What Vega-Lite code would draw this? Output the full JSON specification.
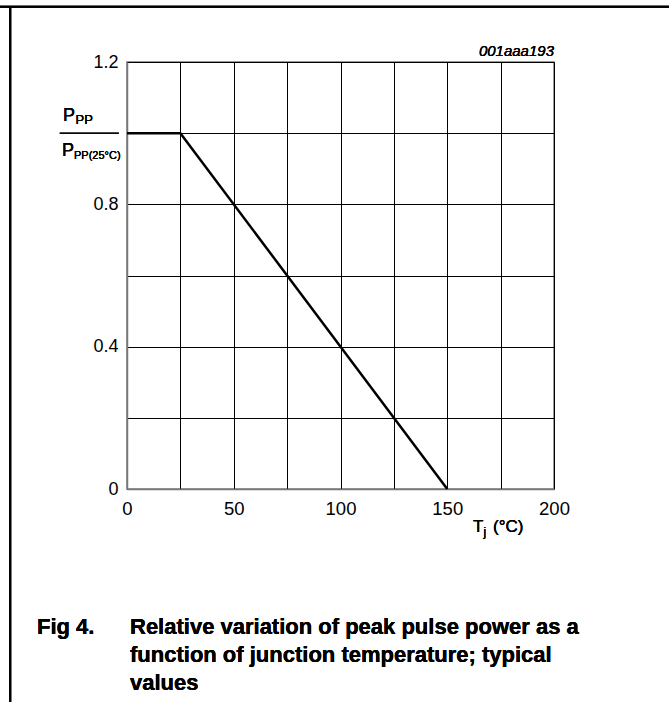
{
  "$schema": "https://vega.github.io/schema/vega-lite/v6.json",
  "width": 427,
  "height": 427,
  "autosize": "none",
  "padding": {"left": 127, "top": 62, "right": 115, "bottom": 213},
  "background": "white",
  "config": {
    "font": "Liberation Sans",
    "view": {"stroke": "#777777", "strokeWidth": 1.5},
    "axis": {
      "labelFont": "Liberation Sans",
      "labelColor": "#000000",
      "grid": true,
      "gridColor": "#000000",
      "gridWidth": 1,
      "gridOpacity": 1,
      "ticks": false,
      "domainColor": "#777777",
      "domainWidth": 1.5,
      "title": null
    }
  },
  "data": {
    "values": [
      {"tj": 0, "ratio": 1.0},
      {"tj": 25, "ratio": 1.0},
      {"tj": 150, "ratio": 0.0}
    ]
  },
  "layer": [
    {
      "mark": {"type": "line", "color": "#000000", "strokeWidth": 2.5},
      "encoding": {
        "x": {
          "field": "tj",
          "type": "quantitative",
          "scale": {"domain": [0, 200], "nice": false, "zero": false},
          "axis": {
            "values": [0, 25, 50, 75, 100, 125, 150, 175, 200],
            "labelExpr": "datum.value % 50 === 0 ? datum.label : ''",
            "labelFontSize": 18.5,
            "labelPadding": 10,
            "labelFlush": false
          }
        },
        "y": {
          "field": "ratio",
          "type": "quantitative",
          "scale": {"domain": [0, 1.2], "nice": false, "zero": false},
          "axis": {
            "values": [0, 0.2, 0.4, 0.6, 0.8, 1.0, 1.2],
            "labelExpr": "datum.value === 0 ? '0' : (datum.value === 0.4 || datum.value === 0.8 || datum.value === 1.2) ? format(datum.value, '.1f') : ''",
            "labelFontSize": 18,
            "labelPadding": 9,
            "labelFlush": false
          }
        }
      }
    },
    {
      "mark": {"type": "rule", "color": "#000000", "strokeWidth": 2},
      "encoding": {
        "x": {"datum": -54.7, "type": "quantitative"},
        "y": {"datum": 1.3555, "type": "quantitative"},
        "y2": {"datum": -0.6}
      }
    },
    {
      "mark": {"type": "rule", "color": "#000000", "strokeWidth": 2},
      "encoding": {
        "x": {"datum": -59.5, "type": "quantitative"},
        "x2": {"datum": 254.5},
        "y": {"datum": 1.3555, "type": "quantitative"}
      }
    },
    {
      "mark": {"type": "rule", "color": "#000000", "strokeWidth": 1},
      "encoding": {
        "x": {"datum": -31.5, "type": "quantitative"},
        "x2": {"datum": -3.8},
        "y": {"datum": 1.0, "type": "quantitative"}
      }
    },
    {
      "mark": {"type": "text", "text": "001aaa193", "fontStyle": "italic", "fontWeight": "normal", "fontSize": 15, "align": "right", "baseline": "alphabetic", "dy": -6, "color": "#000000"},
      "encoding": {
        "x": {"datum": 200, "type": "quantitative"},
        "y": {"datum": 1.2, "type": "quantitative"}
      }
    },
    {
      "mark": {"type": "text", "text": "P", "fontSize": 18, "fontWeight": "normal", "align": "left", "baseline": "alphabetic", "dx": -64, "dy": -12, "color": "#000000"},
      "encoding": {
        "x": {"datum": 0, "type": "quantitative"},
        "y": {"datum": 1.0, "type": "quantitative"}
      }
    },
    {
      "mark": {"type": "text", "text": "PP", "fontSize": 13, "fontWeight": "normal", "align": "left", "baseline": "alphabetic", "dx": -51.5, "dy": -9, "color": "#000000"},
      "encoding": {
        "x": {"datum": 0, "type": "quantitative"},
        "y": {"datum": 1.0, "type": "quantitative"}
      }
    },
    {
      "mark": {"type": "text", "text": "P", "fontSize": 18, "fontWeight": "normal", "align": "left", "baseline": "alphabetic", "dx": -65, "dy": 23, "color": "#000000"},
      "encoding": {
        "x": {"datum": 0, "type": "quantitative"},
        "y": {"datum": 1.0, "type": "quantitative"}
      }
    },
    {
      "mark": {"type": "text", "text": "PP(25°C)", "fontSize": 11, "fontWeight": "normal", "align": "left", "baseline": "alphabetic", "dx": -53, "dy": 26, "color": "#000000"},
      "encoding": {
        "x": {"datum": 0, "type": "quantitative"},
        "y": {"datum": 1.0, "type": "quantitative"}
      }
    },
    {
      "mark": {"type": "text", "text": "T", "fontSize": 17, "fontWeight": "normal", "align": "left", "baseline": "alphabetic", "dx": -81, "dy": 43, "color": "#000000"},
      "encoding": {
        "x": {"datum": 200, "type": "quantitative"},
        "y": {"datum": 0, "type": "quantitative"}
      }
    },
    {
      "mark": {"type": "text", "text": "j", "fontSize": 12, "fontWeight": "normal", "align": "left", "baseline": "alphabetic", "dx": -70.5, "dy": 47, "color": "#000000"},
      "encoding": {
        "x": {"datum": 200, "type": "quantitative"},
        "y": {"datum": 0, "type": "quantitative"}
      }
    },
    {
      "mark": {"type": "text", "text": "(°C)", "fontSize": 17, "fontWeight": "normal", "align": "left", "baseline": "alphabetic", "dx": -61, "dy": 43, "color": "#000000"},
      "encoding": {
        "x": {"datum": 200, "type": "quantitative"},
        "y": {"datum": 0, "type": "quantitative"}
      }
    },
    {
      "mark": {"type": "text", "text": "Fig 4.", "fontSize": 22, "fontWeight": "bold", "align": "left", "baseline": "alphabetic", "dx": -90, "dy": 145, "color": "#000000"},
      "encoding": {
        "x": {"datum": 0, "type": "quantitative"},
        "y": {"datum": 0, "type": "quantitative"}
      }
    },
    {
      "mark": {"type": "text", "text": ["Relative variation of peak pulse power as a", "function of junction temperature; typical", "values"], "fontSize": 22, "fontWeight": "bold", "lineHeight": 28, "align": "left", "baseline": "alphabetic", "dx": 3, "dy": 145, "color": "#000000"},
      "encoding": {
        "x": {"datum": 0, "type": "quantitative"},
        "y": {"datum": 0, "type": "quantitative"}
      }
    }
  ]
}
